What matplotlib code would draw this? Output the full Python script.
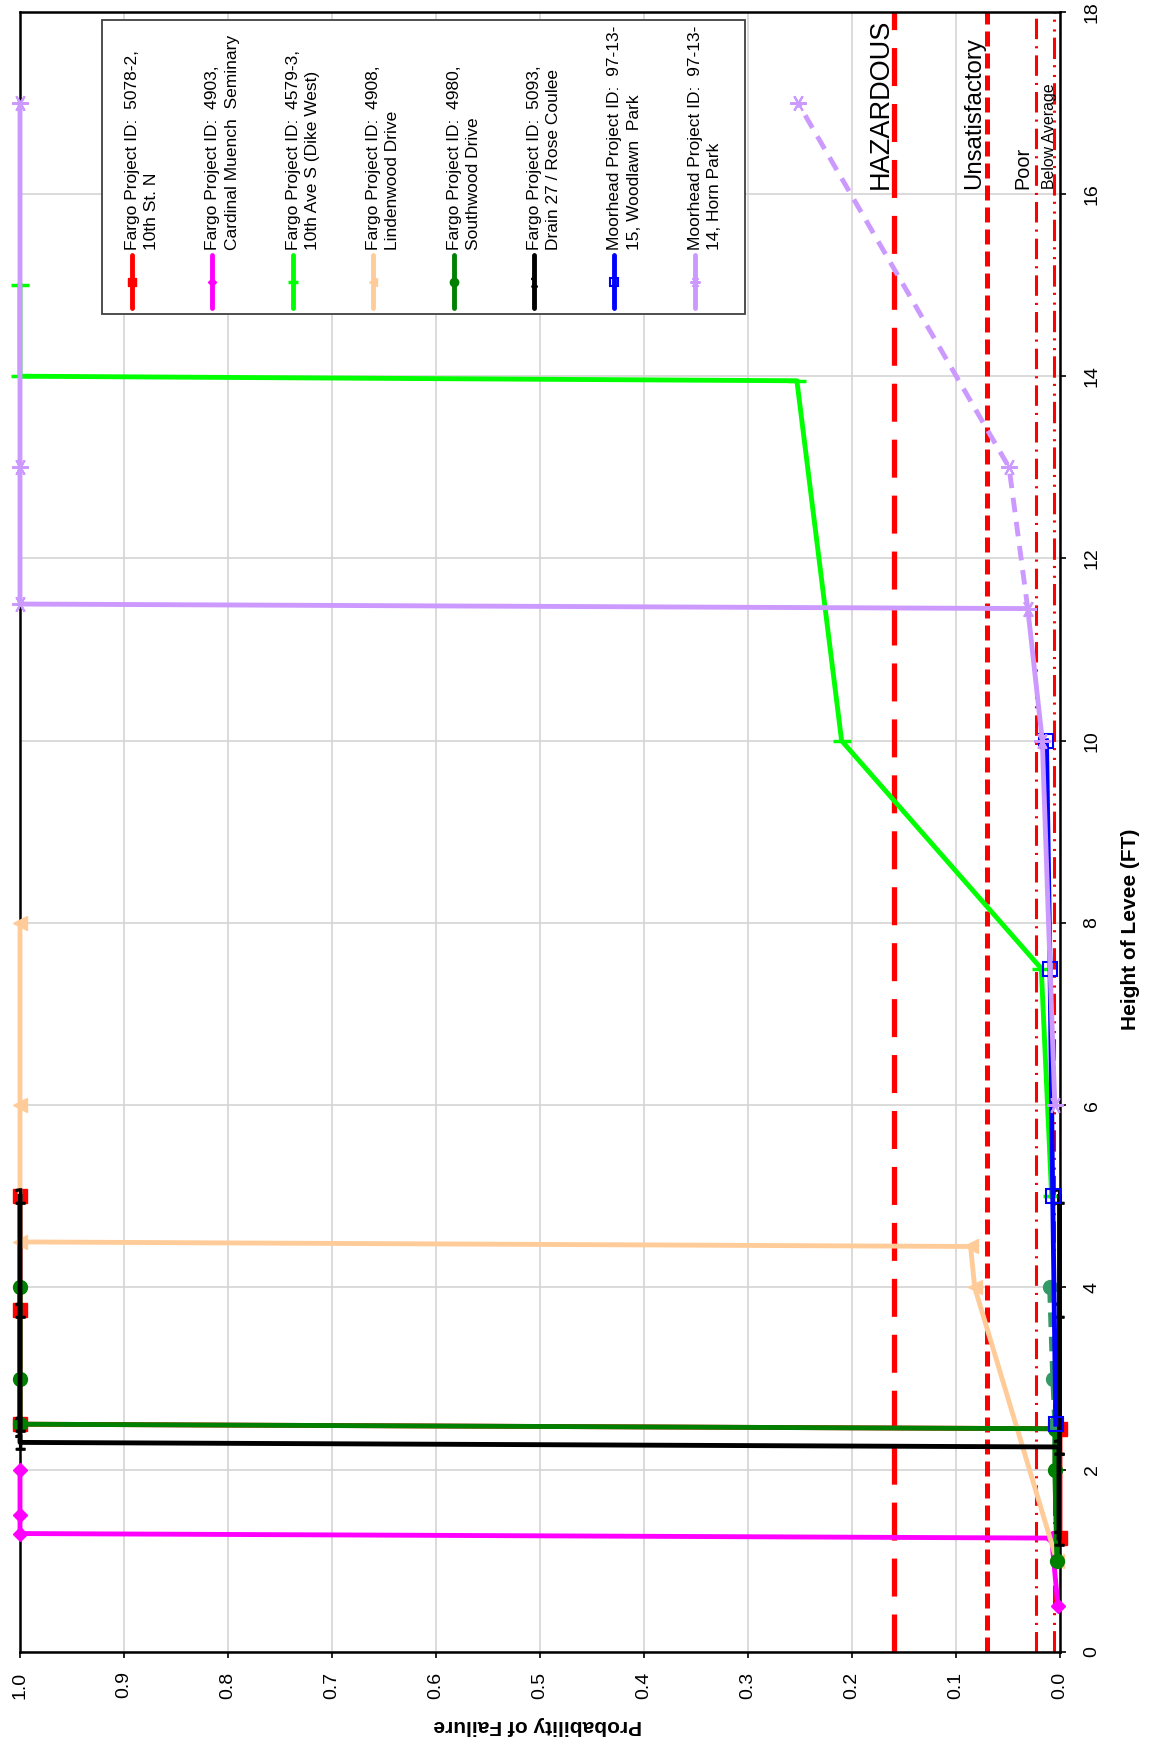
import matplotlib.pyplot as plt
from matplotlib.lines import Line2D
from matplotlib.patches import Rectangle

plt.rcParams["font.family"] = ["Liberation Sans", "DejaVu Sans"]

# --- data: height of levee (ft) vs probability of failure ---
red_h = [1.25, 2.45, 2.5, 3.75, 5.0]
red_p = [0.0, 0.0, 1.0, 1.0, 1.0]
mag_h = [0.5, 1.25, 1.3, 1.5, 2.0]
mag_p = [0.002, 0.008, 1.0, 1.0, 1.0]
lime_h = [5.0, 7.5, 10.0, 13.95, 14.0, 15.0]
lime_p = [0.008, 0.018, 0.21, 0.253, 1.0, 1.0]
peach_h = [1.0, 4.0, 4.45, 4.5, 6.0, 8.0]
peach_p = [0.003, 0.082, 0.086, 1.0, 1.0, 1.0]
green_h = [1.0, 2.0, 2.45, 2.5, 3.0, 4.0]
green_p = [0.003, 0.005, 0.005, 1.0, 1.0, 1.0]
black_h = [1.25, 2.25, 2.3, 2.5, 3.75, 5.0]
black_p = [0.001, 0.001, 1.0, 1.0, 1.0, 1.0]
blue_h = [2.5, 5.0, 7.5, 10.0]
blue_p = [0.004, 0.007, 0.0096, 0.013]
lav_h = [6.0, 10.0, 11.45, 11.5, 13.0, 17.0]
lav_p = [0.005, 0.017, 0.031, 1.0, 1.0, 1.0]

# unlabeled companion curves
lav_alt_h = [11.45, 13.0, 17.0]
lav_alt_p = [0.031, 0.049, 0.252]
green_alt_h = [2.5, 3.0, 4.0]
green_alt_p = [0.005, 0.007, 0.01]
black_alt_h = [2.25, 3.75, 5.0]
black_alt_p = [0.001, 0.001, 0.001]

# performance levels
level_names = ["HAZARDOUS", "Unsatisfactory", "Poor", "Below Average"]
level_p = [0.16, 0.07, 0.023, 0.006]

labels = [
    "Fargo Project ID:  5078-2,\n10th St. N",
    "Fargo Project ID:  4903,\nCardinal Muench  Seminary",
    "Fargo Project ID:  4579-3,\n10th Ave S (Dike West)",
    "Fargo Project ID:  4908,\nLindenwood Drive",
    "Fargo Project ID:  4980,\nSouthwood Drive",
    "Fargo Project ID:  5093,\nDrain 27 / Rose Coulee",
    "Moorhead Project ID:  97-13-\n15, Woodlawn  Park",
    "Moorhead Project ID:  97-13-\n14, Horn Park",
]
prob_ticks = [1.0, 0.9, 0.8, 0.7, 0.6, 0.5, 0.4, 0.3, 0.2, 0.1, 0.0]
height_ticks = [0, 2, 4, 6, 8, 10, 12, 14, 16, 18]

W, H = 1153, 1742


def fx(x):
    return x / W


def fy(y):
    return 1 - y / H


fig = plt.figure(figsize=(11.53, 17.42), dpi=100)
ax = fig.add_axes([fx(20), fy(1652), (1060 - 20) / W, (1652 - 11.7) / H])
ax.set_xlim(1.0, 0.0)
ax.set_ylim(0, 18)

ax.set_xticks(prob_ticks)
ax.set_xticklabels(["%.1f" % t for t in prob_ticks], rotation=90)
ax.set_yticks(height_ticks)
ax.yaxis.tick_right()
ax.tick_params(axis="both", direction="out", length=4, width=1.2, labelsize=14)
ax.tick_params(axis="x", pad=10)
ax.tick_params(axis="y", pad=13, labelrotation=90)
plt.setp(ax.get_yticklabels(), va="center")
ax.grid(color="#d4d4d4", lw=1.2)
ax.set_axisbelow(True)
for s in ax.spines.values():
    s.set_linewidth(1.8)
    s.set_color("black")

# threshold lines
styles = [
    dict(lw=3.8, dashes=(7.2, 3.4)),
    dict(lw=3.6, dashes=(3.0, 1.4)),
    dict(lw=2.2, dashes=(6.7, 2.3, 0.7, 2.3)),
    dict(lw=2.2, dashes=(7, 2, 0.7, 2.5, 0.7, 2)),
]
for p, st in zip(level_p, styles):
    ax.axvline(p, color="red", zorder=1.5, **st)

text_x = [0.160, 0.072, 0.027, 0.003]
text_fs = [19.5, 17.3, 14.3, 11.4]
for name, x, fs in zip(level_names, text_x, text_fs):
    ax.text(x, 16.05, name, rotation=90, rotation_mode="anchor",
            ha="left", va="bottom", fontsize=fs, zorder=3)

lw = 3.5
kw = dict(lw=lw, clip_on=False, zorder=4)
series = [
    (red_h, red_p, "#FF0000", dict(marker="s", ms=10)),
    (mag_h, mag_p, "#FF00FF", dict(marker="D", ms=7)),
    (lime_h, lime_p, "#00FF00", dict(marker="_", ms=13, mew=2.5)),
    (peach_h, peach_p, "#FFCC99", dict(marker="<", ms=10)),
    (green_h, green_p, "#008000", dict(marker="o", ms=10)),
    (black_h, black_p, "black", dict(marker="$1$", ms=11)),
    (blue_h, blue_p, "#0000FF", dict(marker="s", ms=10, mfc="none", mew=1.5)),
    (lav_h, lav_p, "#CC99FF", dict(marker=(6, 2, 90), ms=12, mew=1.5)),
]
for h, p, c, m in series:
    if (h, p) == (blue_h, blue_p):
        ax.plot(green_alt_p, green_alt_h, color="#339966", ls=(0, (3, 2)),
                marker="o", ms=10, **kw)
        ax.plot(black_alt_p, black_alt_h, color="black", marker="$1$", ms=11, **kw)
    ax.plot(p, h, color=c, **m, **kw)
ax.plot(lav_alt_p, lav_alt_h, color="#CC99FF", ls=(0, (3, 2)),
        marker=(6, 2, 90), ms=12, mew=1.5, **kw)

# legend (rotated, drawn by hand)
fig.add_artist(Rectangle((fx(102), fy(314)), (745 - 102) / W, (314 - 20) / H,
                         transform=fig.transFigure, fc="white", ec="#404040",
                         lw=1.3, zorder=10))
for i, (lab, (h, p, c, m)) in enumerate(zip(labels, series)):
    cx = 132 + 80.4 * i
    fig.add_artist(Line2D([fx(cx), fx(cx)], [fy(255), fy(308)], color=c,
                          lw=lw, solid_capstyle="round",
                          transform=fig.transFigure, zorder=11))
    mm = dict(m)
    mm["ms"] = mm["ms"] * 0.6
    fig.add_artist(Line2D([fx(cx)], [fy(282)], color=c, lw=0,
                          transform=fig.transFigure, zorder=12, **mm))
    fig.text(fx(cx - 7), fy(250), lab, rotation=90, rotation_mode="anchor",
             ha="left", va="top", fontsize=12.5, linespacing=1.35, zorder=12)

fig.text(fx(537.6), fy(1725), "Probability of Failure", rotation=180,
         ha="center", va="center", fontsize=15, fontweight="bold")
fig.text(fx(1131), fy(929), "Height of Levee (FT)", rotation=90,
         ha="center", va="center", fontsize=15, fontweight="bold")

fig.savefig("out.png", dpi=100)
